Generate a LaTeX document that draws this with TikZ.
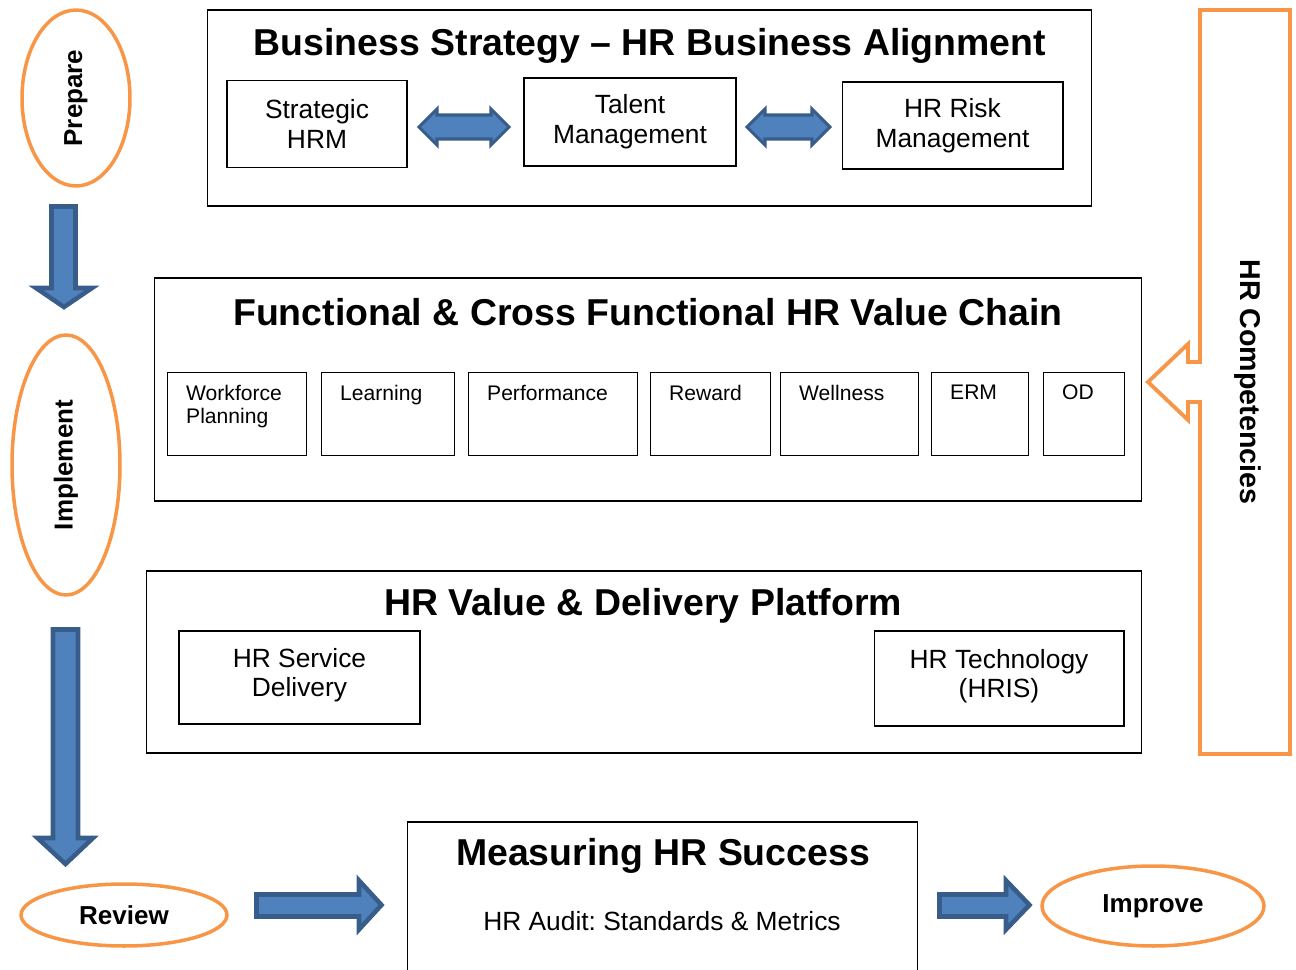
\documentclass[tikz,border=0pt]{standalone}
\usepackage{fontspec}
\setmainfont{Liberation Sans}
\usetikzlibrary{shapes.geometric}
\frenchspacing

\definecolor{hrblue}{HTML}{4F81BD}
\definecolor{hrblueline}{HTML}{385D8A}
\definecolor{hrorange}{HTML}{F79646}

\begin{document}
\begin{tikzpicture}[
    x=0.02cm, y=-0.02cm,
    every node/.style={font=\fontsize{15}{17}\selectfont},
    layer/.style={rectangle, draw=black, line width=0.6pt, inner sep=0pt},
    item/.style={rectangle, draw=black, line width=0.6pt, align=center},
    title/.style={font=\fontsize{21.3}{25}\selectfont\bfseries},
    chain/.style={rectangle, draw=black, line width=0.6pt, anchor=north west, minimum height=1.66cm,
        label={[anchor=north west, align=left, font=\fontsize{12}{13}\selectfont, xshift=0.26cm, yshift=-0.14cm]north west:#1}},
    phase/.style={ellipse, draw=hrorange, line width=2pt, inner sep=0pt, font=\fontsize{14.8}{17}\selectfont\bfseries},
    blockarrow/.style={fill=hrblue, draw=hrblueline, line width=2.6pt, line join=miter},
    linkarrow/.style={fill=hrblue, draw=hrblueline, line width=1.8pt, line join=miter}
]
\useasboundingbox (0,0) rectangle (1296,970);

% Business strategy layer
\node[layer, minimum width=17.7cm, minimum height=3.92cm] (strategy) at (649.5,108) {};
\node[title] (strategytitle) at (650,46) {Business Strategy -- HR Business Alignment};
\node[item, minimum width=3.6cm, minimum height=1.74cm] (shrm) at (317,124) {Strategic\\HRM};
\node[item, minimum width=4.24cm, minimum height=1.76cm] (talent) at (630,122) {Talent\\Management};
\node[item, minimum width=4.42cm, minimum height=1.74cm] (risk) at (952.5,125.5) {HR Risk\\Management};

% two-way links between the three pillars
\draw[linkarrow] (419,127) -- (437,109) -- (437,115) -- (491,115) -- (491,109) -- (509,127)
    -- (491,145) -- (491,139) -- (437,139) -- (437,145) -- cycle;
\draw[linkarrow] (747,127) -- (765,109) -- (765,115) -- (812,115) -- (812,109) -- (830,127)
    -- (812,145) -- (812,139) -- (765,139) -- (765,145) -- cycle;

% Value chain layer
\node[layer, minimum width=19.76cm, minimum height=4.46cm] (chain) at (648,389.5) {};
\node[title] (chaintitle) at (648,312) {Functional \& Cross Functional HR Value Chain};
\node[chain={Workforce\\Planning}, minimum width=2.78cm] (wfp) at (167,372) {};
\node[chain=Learning, minimum width=2.66cm] (learn) at (321,372) {};
\node[chain=Performance, minimum width=3.38cm] (perf) at (468,372) {};
\node[chain=Reward, minimum width=2.4cm] (reward) at (650,372) {};
\node[chain=Wellness, minimum width=2.76cm] (well) at (780,372) {};
\node[chain=ERM, minimum width=1.94cm] (erm) at (931,372) {};
\node[chain=OD, minimum width=1.62cm] (od) at (1043,372) {};

% Delivery platform layer
\node[layer, minimum width=19.92cm, minimum height=3.64cm] (platform) at (644,662) {};
\node[title] (platformtitle) at (643,606) {HR Value \& Delivery Platform};
\node[item, minimum width=4.82cm, minimum height=1.86cm, inner ysep=0pt, text depth=0.2cm] (service) at (299.5,677.5) {HR Service\\Delivery};
\node[item, minimum width=5cm, minimum height=1.9cm, inner ysep=0pt, text depth=0.2cm] (hris) at (999,678.5) {HR Technology\\(HRIS)};

% Measurement
\node[layer, minimum width=10.22cm, minimum height=3.16cm] (measure) at (662.5,901) {};
\node[title] (measuretitle) at (663,856) {Measuring HR Success};
\node (audit) at (662,921) {HR Audit: Standards \& Metrics};

% Phases
\node[phase, rotate=90, minimum width=3.52cm, minimum height=2.16cm] (prepare) at (76,98) {Prepare};
\node[phase, rotate=90, minimum width=5.2cm, minimum height=2.16cm] (implement) at (66,465) {Implement};
\node[phase, minimum width=4.12cm, minimum height=1.24cm] (review) at (124,915) {Review};
\node[phase, minimum width=4.44cm, minimum height=1.6cm] (improve) at (1153,906) {Improve};

% Block arrows between phases
\draw[blockarrow] (51.5,206.5) -- (75.5,206.5) -- (75.5,288) -- (92,288) -- (64,307)
    -- (36,288) -- (51.5,288) -- cycle;
\draw[blockarrow] (53,629.5) -- (78,629.5) -- (78,838) -- (93,838) -- (65.5,864)
    -- (37.5,838) -- (53,838) -- cycle;
\draw[blockarrow] (256.5,894.5) -- (359,894.5) -- (359,880.5) -- (381.5,905) -- (359,929.5)
    -- (359,916.5) -- (256.5,916.5) -- cycle;
\draw[blockarrow] (939.5,894.5) -- (1006,894.5) -- (1006,880.5) -- (1029.5,905) -- (1006,929.5)
    -- (1006,916.5) -- (939.5,916.5) -- cycle;

% Competencies callout
\draw[hrorange, line width=2.2pt] (1200,10) -- (1290,10) -- (1290,754) -- (1200,754) -- (1200,402)
    -- (1188,402) -- (1188,420) -- (1148,382) -- (1188,344) -- (1188,362) -- (1200,362) -- cycle;
\node[rotate=-90, font=\fontsize{16.3}{19}\selectfont\bfseries] (competencies) at (1248,382) {HR Competencies};

\end{tikzpicture}
\end{document}
